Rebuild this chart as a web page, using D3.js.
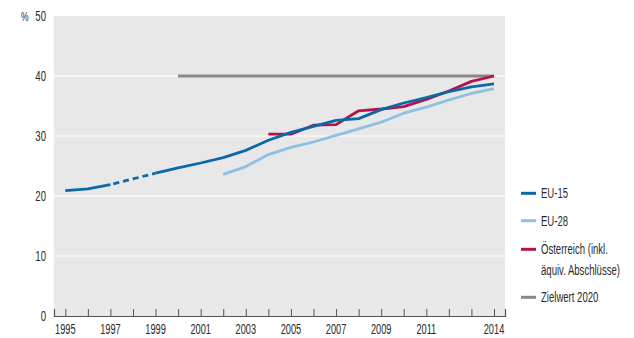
<!DOCTYPE html>
<html><head><meta charset="utf-8">
<script src="https://cdn.jsdelivr.net/npm/d3@7"></script>
<style>
body{margin:0;background:#fff;}
svg text{font-family:"Liberation Sans",Arial,sans-serif;fill:#2a2a2a;}
</style></head>
<body><svg id="c" width="634" height="338"></svg>
<script>
const years = d3.range(1995, 2015);
const eu15 = [20.9,21.2,21.9,null,23.8,24.7,25.5,26.4,27.6,29.3,30.6,31.6,32.6,32.9,34.4,35.5,36.4,37.4,38.2,38.7];
const eu28 = [null,null,null,null,null,null,null,23.6,24.9,26.9,28.1,29.0,30.1,31.2,32.3,33.8,34.8,36.0,37.1,37.9];
const austria = [null,null,null,null,null,null,null,null,null,30.3,30.3,31.8,31.9,34.2,34.5,34.9,36.1,37.5,39.1,40.0];
const targetYears = [2000, 2014];
const targetValue = [40, 40];
const yTicks = [0,10,20,30,40,50];
const xLabels = [1995,1997,1999,2001,2003,2005,2007,2009,2011,2014];
const legendLabels = [["EU-15"],["EU-28"],["Österreich (inkl.","äquiv. Abschlüsse)"],["Zielwert 2020"]];
const colors = ["#0a69a6","#8dc0e2","#b5124b","#878787"];

const svg = d3.select("#c");
const L=54,R=505,T=16,B=316;
const x = d3.scaleLinear().domain([1995 - (65.3-L)/22.56, 2014 + (R-494)/22.56]).range([L,R]);
const y = d3.scaleLinear().domain([0,50]).range([B,T]);
const SX = 0.66;
function txt(px,py,t,anchor,size){
  return svg.append("text").attr("transform",`translate(${px},${py}) scale(${SX},1)`)
    .attr("dy","0.35em").attr("text-anchor",anchor||"start").attr("font-size",size||14.5).text(t);
}

svg.append("rect").attr("x",L).attr("y",T).attr("width",R-L).attr("height",B-T).attr("fill","#e8e8e8");
svg.append("g").selectAll("line").data(yTicks.filter(v=>v>0&&v<50)).join("line")
  .attr("x1",L).attr("x2",R).attr("y1",d=>y(d)).attr("y2",d=>y(d))
  .attr("stroke","#fff").attr("stroke-width",1.2);

yTicks.forEach(v=>txt(46,y(v),v,"end",14.5));
txt(21,y(50),"%","start",13).attr("fill","#555");

const xa = svg.append("g").attr("transform",`translate(0,${B})`)
  .call(d3.axisBottom(x).tickValues(years).tickSize(-7).tickFormat(""));
xa.select(".domain").attr("stroke","#555").attr("stroke-width",1.2);
xa.selectAll(".tick line").attr("stroke","#555");
xLabels.forEach(v=>txt(x(v),329.5,v,"middle",14));

function pts(arr){return years.map((yr,i)=>({yr,v:arr[i]}));}
const line = d3.line().defined(d=>d.v!=null).x(d=>x(d.yr)).y(d=>y(d.v));

svg.append("path").datum(targetYears.map((yr,i)=>({yr,v:targetValue[i]})))
  .attr("d",line).attr("stroke",colors[3]).attr("stroke-width",3).attr("fill","none");
const gapPts = pts(eu15).filter(d=>d.v!=null && d.yr>=1997 && d.yr<=1999);
svg.append("path").datum(gapPts).attr("d",line).attr("stroke",colors[0]).attr("stroke-width",2.8)
  .attr("fill","none").attr("stroke-dasharray","6,4").attr("stroke-dashoffset",-3);
[eu28,austria,eu15].forEach((arr,k)=>{
  const c=[colors[1],colors[2],colors[0]][k];
  svg.append("path").datum(pts(arr)).attr("d",line).attr("stroke",c).attr("stroke-width",2.8)
    .attr("stroke-linejoin","round").attr("fill","none");
});

const ly=[193.3,220.7,249.3,297.3];
legendLabels.forEach((lab,i)=>{
  svg.append("line").attr("x1",521).attr("x2",536).attr("y1",ly[i]).attr("y2",ly[i])
    .attr("stroke",colors[i]).attr("stroke-width",3);
  lab.forEach((t,j)=>txt(541,ly[i]+j*21,t,"start",14.5));
});
</script></body></html>
